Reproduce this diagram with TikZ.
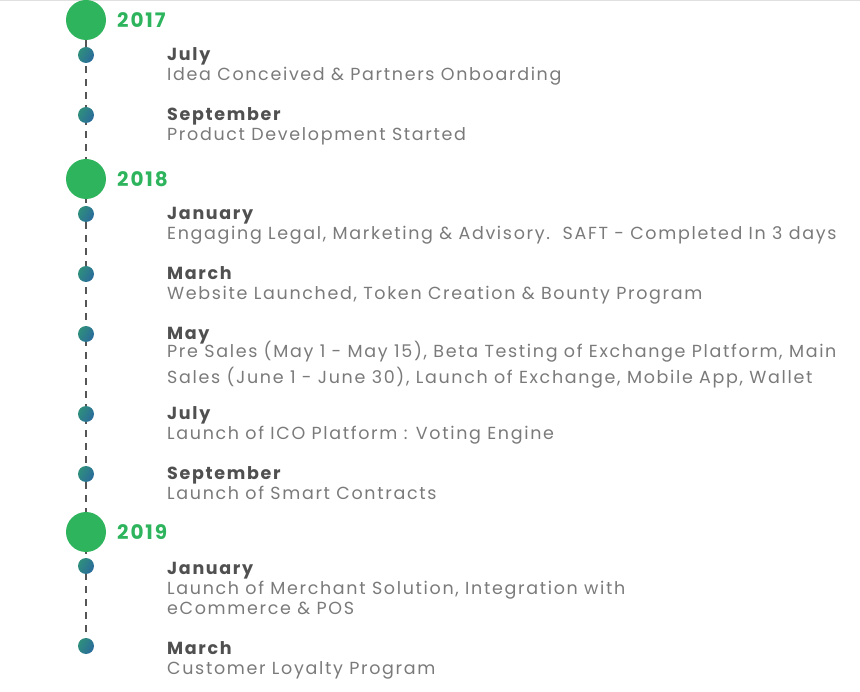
\documentclass[tikz,border=0pt]{standalone}
\usepackage{fontspec}
\setmainfont{Poppins}[LetterSpace=9.5]
\usetikzlibrary{backgrounds}
\definecolor{ballgreen}{HTML}{2DB45D}
\definecolor{dotteal}{HTML}{2F8F7C}
\definecolor{dotblue}{HTML}{2A6A9C}
\definecolor{monthgray}{HTML}{505050}
\definecolor{descgray}{HTML}{7A7A7A}
\definecolor{railgray}{HTML}{555555}
\newcommand{\txtsize}{\fontsize{17.5}{20}\selectfont}
\tikzset{
  yearball/.style={circle,fill=ballgreen,minimum size=40,inner sep=0},
  yeartext/.style={anchor=base west,inner sep=0,text=ballgreen,font=\bfseries\fontsize{20}{24}\selectfont},
  stopdot/.style={circle,minimum size=16,inner sep=0,left color=dotteal,right color=dotblue,shading angle=60},
  monthlbl/.style={anchor=base west,inner sep=0,text=monthgray,font=\bfseries\txtsize},
  desclbl/.style={anchor=base west,inner sep=0,text=descgray,font=\txtsize,align=left},
}

\begin{document}
\begin{tikzpicture}[x=1pt,y=-1pt]
\useasboundingbox (0,0) rectangle (860,692);
\draw[black!12,line width=1.5] (0,0.5)--(860,0.5);
\foreach \nm/\yy/\yr in {y17/20/2017,y18/179/2018,y19/532/2019}{
  \node[yearball] (\nm) at (86,\yy) {};
  \node[yeartext] (\nm t) at (117,\yy+7.5) {\yr};}
\foreach \nm/\yy in {d1/55,d2/115,d3/214,d4/274,d5/334,d6/414,d7/474,d8/566,d9/646}
  \node[stopdot] (\nm) at (86,\yy) {};
\begin{scope}[on background layer]
\draw[railgray,line width=1.8,dash pattern=on 7 off 6] (y17)--(d9);
\end{scope}
% 2017
\node[monthlbl] (m1) at (167,61) {July};
\node[desclbl] (t1) at (167,81) {Idea Conceived \& Partners Onboarding};
\node[monthlbl] (m2) at (167,121) {September};
\node[desclbl] (t2) at (167,141) {Product Development Started};
% 2018
\node[monthlbl] (m3) at (167,220) {January};
\node[desclbl] (t3) at (167,240) {Engaging Legal, Marketing \& Advisory.\ \ SAFT - Completed In 3 days};
\node[monthlbl] (m4) at (167,280) {March};
\node[desclbl] (t4) at (167,300) {Website Launched, Token Creation \& Bounty Program};
\node[monthlbl] (m5) at (167,340) {May};
% base of a two-line node is its last line
\node[desclbl] (t5) at (167,384) {Pre Sales (May 1 - May 15), Beta Testing of Exchange Platform, Main\\[4pt]Sales (June 1 - June 30), Launch of Exchange, Mobile App, Wallet};
\node[monthlbl] (m6) at (167,420) {July};
\node[desclbl] (t6) at (167,440) {Launch of ICO Platform : Voting Engine};
\node[monthlbl] (m7) at (167,480) {September};
\node[desclbl] (t7) at (167,500) {Launch of Smart Contracts};
% 2019
\node[monthlbl] (m8) at (167,574) {January};
\node[desclbl] (t8) at (167,614) {Launch of Merchant Solution, Integration with\\eCommerce \& POS};
\node[monthlbl] (m9) at (167,654) {March};
\node[desclbl] (t9) at (167,674) {Customer Loyalty Program};
\end{tikzpicture}
\end{document}
